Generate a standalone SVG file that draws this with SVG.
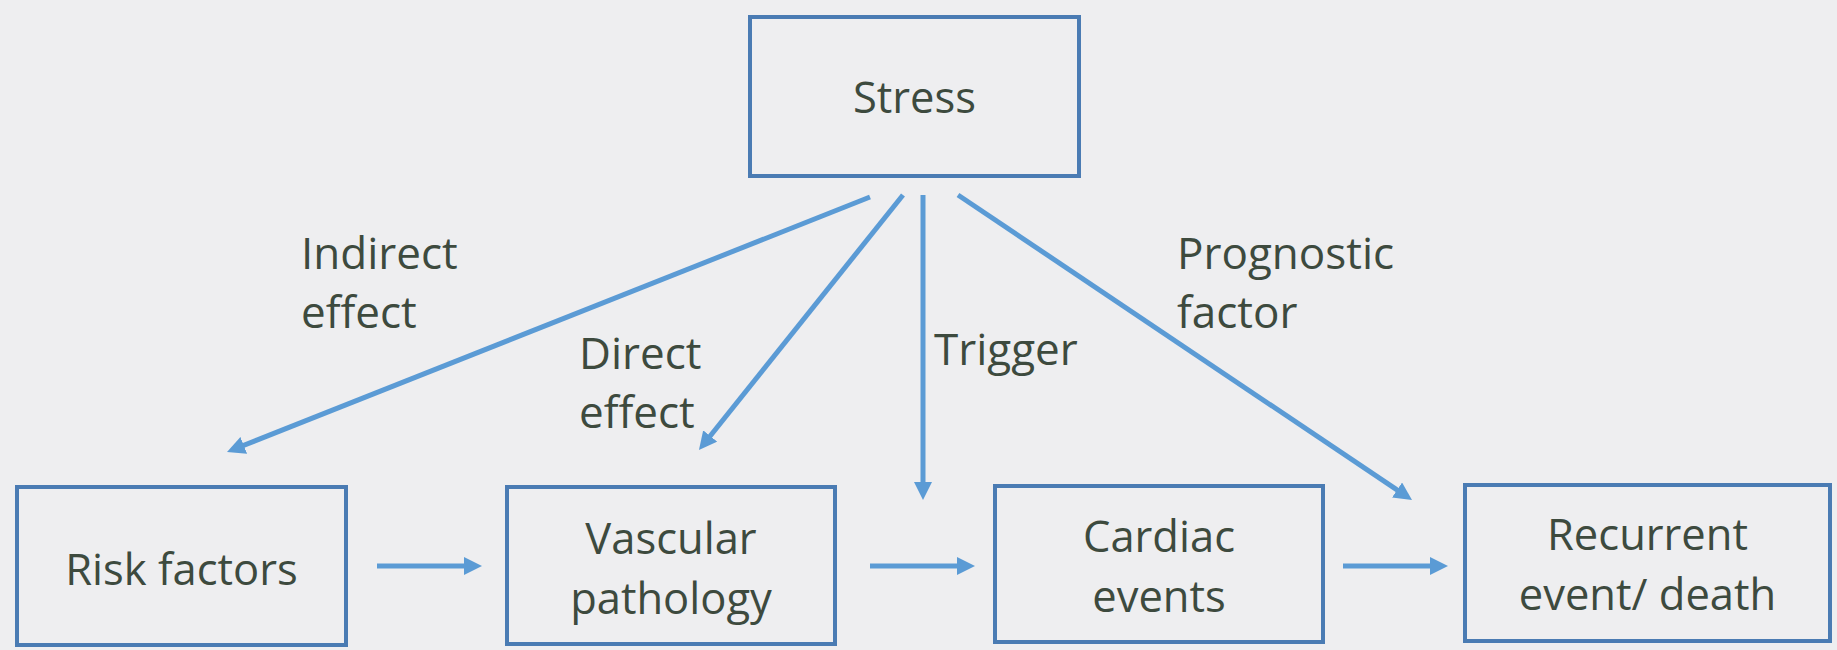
<svg xmlns="http://www.w3.org/2000/svg" width="1837" height="650" viewBox="0 0 1837 650">
  <defs>
    <marker id="ah" markerUnits="userSpaceOnUse" markerWidth="18" markerHeight="18" viewBox="0 0 18 18" refX="8" refY="9" orient="auto">
      <path d="M0,0 L18,9 L0,18 Z" fill="#5b9bd5"/>
    </marker>
    <style>
      .box { fill: none; stroke: #4a7bb3; stroke-width: 4; }
      .txt { font-family: "Open Sans", "Liberation Sans", sans-serif; font-size: 43.5px; fill: #3d4a3e; }
      .lbl { font-size: 44px; }
      .mid { text-anchor: middle; }
      .conn line { stroke: #5b9bd5; stroke-width: 5; marker-end: url(#ah); }
    </style>
  </defs>
  <rect width="1837" height="650" fill="#eeeef0"/>

  <g id="stress">
    <rect class="box" x="750" y="17" width="329" height="159"/>
    <text class="txt mid" x="914.5" y="113">Stress</text>
  </g>
  <g id="risk-factors">
    <rect class="box" x="17" y="487" width="329" height="158"/>
    <text class="txt mid" x="181.5" y="585">Risk factors</text>
  </g>
  <g id="vascular-pathology">
    <rect class="box" x="507" y="487" width="328" height="157"/>
    <text class="txt mid" x="671" y="554">Vascular</text>
    <text class="txt mid" x="671" y="614">pathology</text>
  </g>
  <g id="cardiac-events">
    <rect class="box" x="995" y="486" width="328" height="156"/>
    <text class="txt mid" x="1159" y="552">Cardiac</text>
    <text class="txt mid" x="1159" y="612">events</text>
  </g>
  <g id="recurrent-event">
    <rect class="box" x="1465" y="485" width="365" height="156"/>
    <text class="txt mid" x="1647.5" y="550">Recurrent</text>
    <text class="txt mid" x="1647.5" y="610">event/ death</text>
  </g>

  <g id="connectors" class="conn">
    <line x1="870" y1="197" x2="236.3" y2="448.3"/>
    <line x1="903" y1="195" x2="705.2" y2="442.2"/>
    <line x1="923" y1="195" x2="923" y2="490"/>
    <line x1="958" y1="195" x2="1403.7" y2="494.4"/>
    <line x1="377" y1="566" x2="472" y2="566"/>
    <line x1="870" y1="566" x2="965" y2="566"/>
    <line x1="1343" y1="566" x2="1438" y2="566"/>
  </g>

  <g id="labels">
    <text class="txt lbl" x="301" y="269">Indirect</text>
    <text class="txt lbl" x="301" y="328">effect</text>
    <text class="txt lbl" x="579" y="369">Direct</text>
    <text class="txt lbl" x="579" y="428">effect</text>
    <text class="txt lbl" x="934" y="365">Trigger</text>
    <text class="txt lbl" x="1177" y="269">Prognostic</text>
    <text class="txt lbl" x="1177" y="328">factor</text>
  </g>
</svg>
